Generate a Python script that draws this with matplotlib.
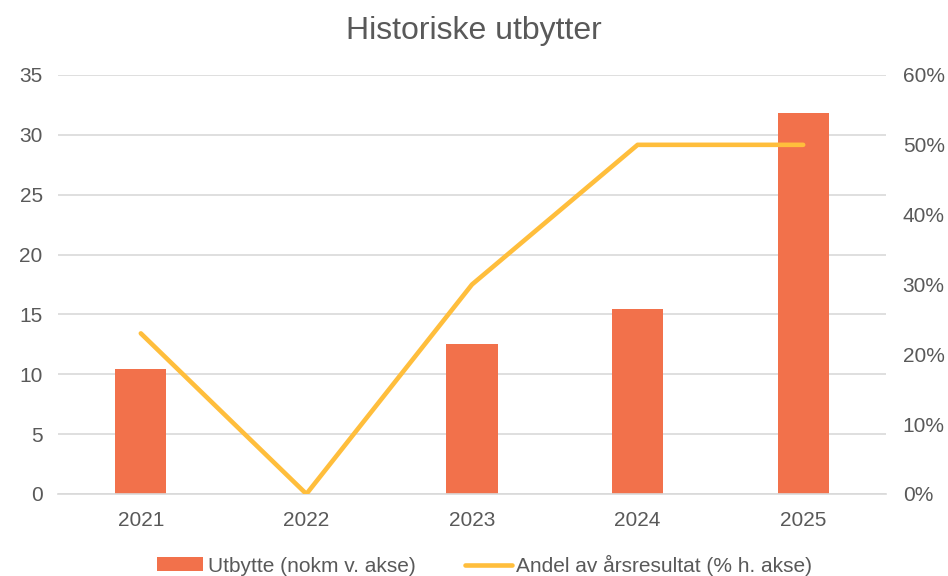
import numpy as np
import matplotlib
matplotlib.use("Agg")
import matplotlib.pyplot as plt
from matplotlib.ticker import FuncFormatter

plt.rcParams["font.family"] = ["Liberation Sans", "DejaVu Sans"]

years = ["2021", "2022", "2023", "2024", "2025"]
utbytte = [10.45, 0.0, 12.55, 15.45, 31.85]          # nokm, venstre akse
andel = [23.0, 0.0, 30.0, 50.0, 50.0]                # % av årsresultat, høyre akse

BAR_COLOR = "#F2714B"
LINE_COLOR = "#FFBE3C"
TEXT = "#595959"
GRID = "#D9D9D9"
FS = 15

fig = plt.figure(figsize=(9.48, 5.76), dpi=100)
ax = fig.add_axes([0.0612, 0.1424, 0.8734, 0.7274])
ax2 = ax.twinx()

x = np.arange(len(years))
ax.bar(x, utbytte, width=0.31, color=BAR_COLOR, zorder=2,
       label="Utbytte (nokm v. akse)")
ax2.plot(x, andel, color=LINE_COLOR, lw=3.3, solid_capstyle="round",
         zorder=3, label="Andel av årsresultat (% h. akse)")

ax.set_xlim(-0.5, len(years) - 0.5)
ax.set_ylim(0, 35)
ax.set_yticks(range(0, 36, 5))
ax2.set_ylim(0, 60)
ax2.set_yticks(range(0, 61, 10))
ax2.yaxis.set_major_formatter(FuncFormatter(lambda v, _: f"{v:.0f}%"))

ax.set_xticks(x)
ax.set_xticklabels(years)
ax.grid(axis="y", color=GRID, lw=1.2, zorder=0)
ax.set_axisbelow(True)

for a in (ax, ax2):
    for s in a.spines.values():
        s.set_visible(False)
    a.tick_params(length=0, labelsize=FS, colors=TEXT)
ax.spines["bottom"].set_visible(True)
ax.spines["bottom"].set_color(GRID)
ax.spines["bottom"].set_linewidth(1.2)
ax.tick_params(axis="y", pad=11)
ax2.tick_params(axis="y", pad=12)
ax.tick_params(axis="x", pad=12)

ax2.set_zorder(ax.get_zorder() + 1)
ax.patch.set_visible(False)

fig.suptitle("Historiske utbytter", fontsize=23, color=TEXT, y=0.973)

h1, l1 = ax.get_legend_handles_labels()
h2, l2 = ax2.get_legend_handles_labels()
fig.legend(h1 + h2, l1 + l2, loc="lower center", ncol=2, frameon=False,
           fontsize=FS, labelcolor=TEXT, bbox_to_anchor=(0.511, -0.032),
           handlelength=2.25, handleheight=0.65, columnspacing=2.4,
           handletextpad=0.2)

fig.savefig("out.png", dpi=100)
